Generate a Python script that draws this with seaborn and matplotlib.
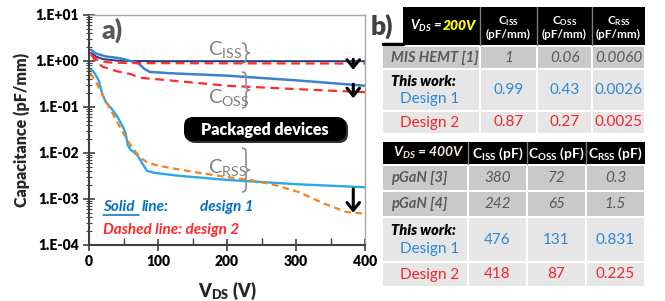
import matplotlib
matplotlib.use('Agg')
import matplotlib.pyplot as plt
import seaborn as sns
import numpy as np
import pandas as pd
from matplotlib.patches import Rectangle, FancyBboxPatch
from matplotlib.path import Path
from matplotlib.patches import PathPatch
from matplotlib.ticker import FixedLocator, LogLocator, MultipleLocator, FuncFormatter, NullFormatter

sns.set_style('ticks')
plt.rcParams['font.family'] = ['Lato', 'DejaVu Sans']
plt.rcParams['mathtext.fontset'] = 'custom'
plt.rcParams['mathtext.rm'] = 'Lato'
plt.rcParams['mathtext.it'] = 'Lato:italic'
plt.rcParams['mathtext.bf'] = 'Lato:bold'

# ---- a) C-V curves (read off the picture)
v_ciss1 = [3, 10, 20, 40, 60, 100, 200, 300, 400]
c_ciss1 = [1.5, 1.25, 1.1, 1.02, 1.0, 0.99, 0.99, 0.99, 0.99]

v_coss1 = [3, 10, 25, 45, 60, 72, 80, 88, 120, 200, 300, 400]
c_coss1 = [1.75, 1.45, 1.25, 1.15, 1.0, 0.88, 0.68, 0.58, 0.54, 0.48, 0.38, 0.29]

v_ciss2 = [3, 8, 15, 30, 60, 200, 400]
c_ciss2 = [1.35, 1.15, 1.0, 0.93, 0.9, 0.89, 0.88]

v_coss2 = [3, 10, 20, 40, 60, 75, 100, 200, 300, 400]
c_coss2 = [1.45, 0.95, 0.75, 0.6, 0.52, 0.43, 0.4, 0.29, 0.245, 0.21]

v_crss1 = [3, 8, 14, 19, 24, 32, 40, 48, 53, 56, 60, 70, 77, 84, 95, 130, 200, 300, 400]
c_crss1 = [0.65, 0.55, 0.38, 0.2, 0.13, 0.095, 0.065, 0.04, 0.027, 0.015, 0.012,
           0.009, 0.006, 0.0041, 0.0037, 0.0032, 0.0026, 0.0021, 0.0018]

v_crss2 = [2, 10, 20, 29, 40, 51, 60, 70, 77, 84, 100, 130, 160, 200, 233, 270, 305, 340, 373, 400]
c_crss2 = [0.55, 0.35, 0.18, 0.1, 0.05, 0.025, 0.015, 0.0095, 0.0075, 0.0063, 0.0053,
           0.0044, 0.0037, 0.003, 0.0026, 0.002, 0.0014, 0.0008, 0.00052, 0.00048]

# ---- b) tables
t1_title = ['V$_{\\mathregular{DS}}$ = ', '200V']
t1_cols = ['C$_{\\mathregular{ISS}}$\n(pF/mm)', 'C$_{\\mathregular{OSS}}$\n(pF/mm)', 'C$_{\\mathregular{RSS}}$\n(pF/mm)']
t1_ref = ['MIS HEMT [1]']
t1_ref_vals = [['1', '0.06', '0.0060']]
t1_d1 = ['0.99', '0.43', '0.0026']
t1_d2 = ['0.87', '0.27', '0.0025']

t2_title = 'V$_{\\mathregular{DS}}$ = 400V'
t2_cols = ['C$_{\\mathregular{ISS}}$ (pF)', 'C$_{\\mathregular{OSS}}$ (pF)', 'C$_{\\mathregular{RSS}}$ (pF)']
t2_ref = ['pGaN [3]', 'pGaN [4]']
t2_ref_vals = [['380', '72', '0.3'], ['242', '65', '1.5']]
t2_d1 = ['476', '131', '0.831']
t2_d2 = ['418', '87', '0.225']

BLUE = '#3B82CC'
NAVY = '#1F3A7A'
CYAN = '#29A9E6'
RED = '#FF2A2A'
ORANGE = '#F5821F'
TBLUE = '#2F87D4'
TRED = '#F2262E'
GRAY = '#595959'

W, H = 665, 301
fig = plt.figure(figsize=(W / 100, H / 100), dpi=100)
ax = fig.add_axes([89 / W, 1 - 245 / H, (365 - 89) / W, (245 - 15) / H])

sns.lineplot(x=v_ciss1, y=c_ciss1, ax=ax, color=NAVY, lw=1.4, sort=False)
sns.lineplot(x=v_coss1, y=c_coss1, ax=ax, color=BLUE, lw=1.8, sort=False)
sns.lineplot(x=v_crss1, y=c_crss1, ax=ax, color=CYAN, lw=1.7, sort=False)
sns.lineplot(x=v_ciss2, y=c_ciss2, ax=ax, color=RED, lw=1.6, sort=False, linestyle=(0, (4, 2.5)))
sns.lineplot(x=v_coss2, y=c_coss2, ax=ax, color=RED, lw=1.6, sort=False, linestyle=(0, (4, 2.5)))
sns.lineplot(x=v_crss2, y=c_crss2, ax=ax, color=ORANGE, lw=1.6, sort=False, linestyle=(0, (3, 2)))

ax.set_yscale('log')
ax.set_xlim(0, 400)
ax.set_ylim(1e-4, 10)
ax.xaxis.set_major_locator(MultipleLocator(100))
ax.xaxis.set_minor_locator(MultipleLocator(50))
ax.yaxis.set_major_locator(LogLocator(base=10, numticks=10))
ax.yaxis.set_minor_locator(LogLocator(base=10, subs=np.arange(2, 10), numticks=20))
ax.yaxis.set_minor_formatter(NullFormatter())
ax.yaxis.set_major_formatter(FuncFormatter(lambda v, p: '1.E%+03d' % int(round(np.log10(v)))))
ax.tick_params(axis='both', which='major', direction='inout', length=8, width=1.2, colors='#404040',
               labelsize=10, labelcolor='black')
ax.tick_params(axis='y', which='minor', direction='inout', length=5, width=0.8, colors='#404040')
ax.tick_params(axis='x', which='minor', direction='in', length=5, width=1.0, colors='#404040')
for lab in ax.get_xticklabels() + ax.get_yticklabels():
    lab.set_fontweight('heavy')
for s in ['left', 'bottom']:
    ax.spines[s].set_color('#404040')
    ax.spines[s].set_linewidth(1.5)
for s in ['top', 'right']:
    ax.spines[s].set_color('#A6A6A6')
    ax.spines[s].set_linewidth(1.0)
ax.set_ylabel('Capacitance (pF/mm)', fontsize=11.5, fontweight='heavy', labelpad=4)
ax.set_xlabel('V$_{\\mathregular{DS}}$ (V)', fontsize=13, fontweight='heavy', labelpad=8)

# arrows showing the decrease at 400 V
for top, bot in [(1.25, 0.56), (0.36, 0.135), (0.0019, 0.00044)]:
    ax.annotate('', xy=(383, bot), xytext=(383, top),
                arrowprops=dict(arrowstyle='->,head_width=0.45,head_length=0.55', color='black', lw=2.2))

# ---- overlay in pixel coordinates
ov = fig.add_axes([0, 0, 1, 1], facecolor='none')
ov.set_xlim(0, W)
ov.set_ylim(H, 0)
ov.axis('off')

ov.text(102, 30, 'a)', fontsize=19, fontweight='heavy', color=GRAY, va='center', ha='left')


def brace(x, y0, y1, w=4):
    ym = (y0 + y1) / 2
    verts = [(x - w, y0), (x, y0), (x, y0 + w),
             (x, ym - w), (x, ym), (x + w, ym),
             (x, ym), (x, ym + w),
             (x, y1 - w), (x, y1), (x - w, y1)]
    codes = [Path.MOVETO, Path.CURVE3, Path.CURVE3,
             Path.LINETO, Path.CURVE3, Path.CURVE3,
             Path.CURVE3, Path.CURVE3,
             Path.LINETO, Path.CURVE3, Path.CURVE3]
    ov.add_patch(PathPatch(Path(verts, codes), fill=False, ec='#8C8C8C', lw=1.2))


brace(246, 43, 63)
brace(246, 72, 108)
brace(246, 148, 192)
for txt, yy in [('ISS', 50), ('OSS', 97), ('RSS', 167)]:
    ov.text(208, yy, 'C$_{\\mathregular{%s}}$' % txt, fontsize=14.5, color='#7F7F7F', va='center', ha='left')

ov.add_patch(FancyBboxPatch((188, 121), 158, 20, boxstyle='round,pad=2,rounding_size=9',
                            fc='#303030', ec='none'))
ov.add_patch(FancyBboxPatch((186, 119), 158, 20, boxstyle='round,pad=2,rounding_size=9',
                            fc='black', ec='none'))
ov.text(265, 130, 'Packaged devices', fontsize=11.5, fontweight='heavy', color='white',
        ha='center', va='center')

ov.text(103, 207, 'Solid', fontsize=11, fontweight='bold', style='italic', color='#0070C0', va='center')
ov.plot([103, 139], [215, 215], color='#0070C0', lw=1.1)
ov.text(142, 207, 'line:', fontsize=11, fontweight='bold', style='italic', color='#0070C0', va='center')
ov.text(200, 207, 'design 1', fontsize=11, fontweight='bold', style='italic', color='#0070C0', va='center')
ov.text(103, 230, 'Dashed line: design 2', fontsize=11, fontweight='bold', style='italic', color=RED,
        va='center')

ov.text(371, 26, 'b)', fontsize=19, fontweight='heavy', color='#404040', va='center', ha='left')


def cell(x0, y0, x1, y1, c):
    ov.add_patch(Rectangle((x0, y0), x1 - x0, y1 - y0, fc=c, ec='none'))


REF = '#C9C9C9'
OWN = '#E6E6E6'


def table(xe, hy, rows_y, cols, refs, ref_vals, d1, d2, head_x0, colsize):
    cell(head_x0, hy[0], xe[-1], hy[1], 'black')
    for xx in xe[1:-1]:
        ov.plot([xx, xx], hy, color='#7F7F7F', lw=1)
    for j, ctxt in enumerate(cols):
        ov.text((xe[j + 1] + xe[j + 2]) / 2, (hy[0] + hy[1]) / 2 + 1, ctxt, color='white', fontsize=colsize,
                fontweight='bold', ha='center', va='center', linespacing=1.1)
    vals = ref_vals + [d1, d2]
    for i, (y0, y1) in enumerate(rows_y):
        is_ref = i < len(refs)
        bg = REF if is_ref else OWN
        for j in range(4):
            cell(xe[j] + (1 if j else 0), y0, xe[j + 1] - 1, y1, bg)
        yc = (y0 + y1) / 2
        if is_ref:
            ov.text(391, yc, refs[i], fontsize=10.5, fontweight='bold', style='italic', color=GRAY,
                    va='center', ha='left')
            col, st = GRAY, 'italic'
        elif i == len(refs):
            ov.text(391, yc - 9, 'This work:', fontsize=10.5, fontweight='heavy', style='italic', color='black',
                    va='center', ha='left')
            ov.text(400, yc + 9, 'Design 1', fontsize=11, color=TBLUE, va='center', ha='left')
            col, st = TBLUE, 'normal'
        else:
            ov.text(400, yc, 'Design 2', fontsize=11, color=TRED, va='center', ha='left')
            col, st = TRED, 'normal'
        for j, v in enumerate(vals[i]):
            ov.text((xe[j + 1] + xe[j + 2]) / 2, yc, v, fontsize=11, style=st, color=col,
                    ha='center', va='center')


table([383, 480, 537, 592, 645], [7, 45], [(47, 68), (70, 110), (112, 133)],
      t1_cols, t1_ref, t1_ref_vals, t1_d1, t1_d2, 403, 8.5)
ov.plot([383, 403], [44, 44], color='black', lw=2.5)
tt = ov.text(410, 26, t1_title[0], fontsize=9.5, fontweight='bold', style='italic', color='white',
             va='center', ha='left')
ov.annotate(t1_title[1], xy=(1, 0.5), xycoords=tt, va='center', ha='left', fontsize=10,
            fontweight='heavy', style='italic', color='#FFFF00')

table([383, 468, 527, 586, 645], [142, 164], [(166, 190), (192, 216), (218, 261), (263, 286)],
      t2_cols, t2_ref, t2_ref_vals, t2_d1, t2_d2, 383, 10)
ov.text(464, 153, t2_title, fontsize=10, fontweight='bold', style='italic', color='#F4EBE1',
        va='center', ha='right')

fig.savefig('out.png', dpi=100)
